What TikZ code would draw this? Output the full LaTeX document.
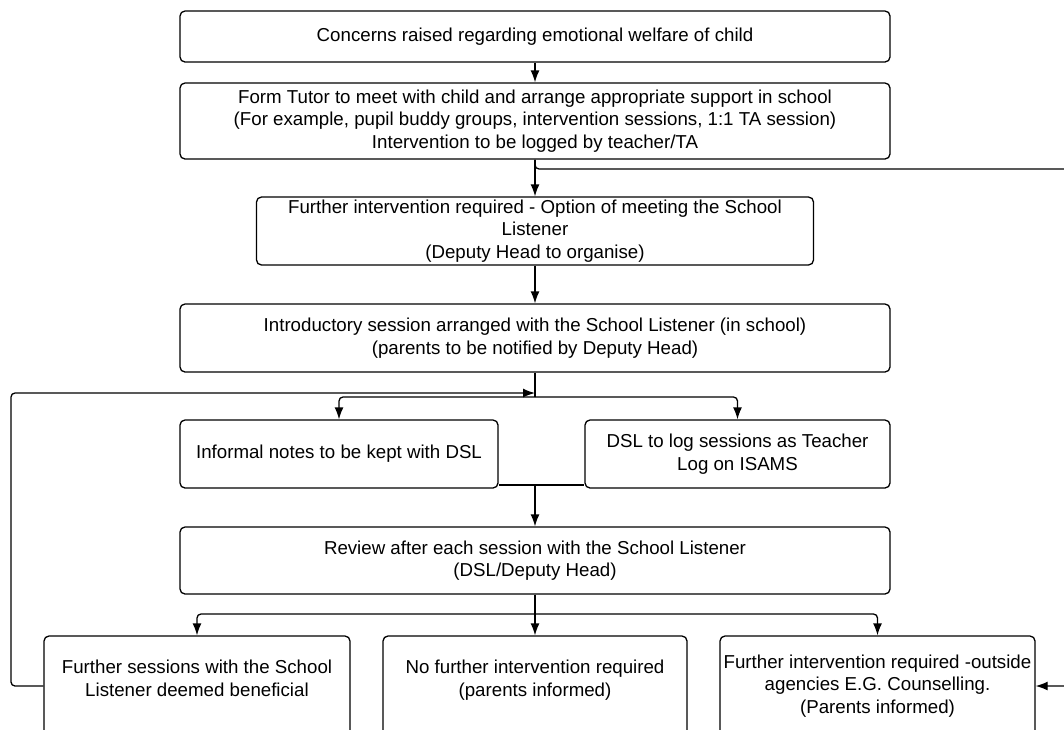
\documentclass[tikz,border=0pt]{standalone}
\usepackage{fontspec}
\setmainfont{Liberation Sans}
\usetikzlibrary{arrows.meta}

\begin{document}
\begin{tikzpicture}[x=1pt, y=-1pt, ->, >={Latex[length=12pt,width=9pt]},
    line width=1.3pt, align=center,
    every node/.style={font=\fontsize{18.7}{22.5}\selectfont}]

  \tikzstyle{box}=[draw, rectangle, rounded corners=5pt, inner sep=0pt,
    minimum width=710pt, minimum height=68pt]

  \useasboundingbox (0,0) rectangle (1064,729);
  \clip (0,0) rectangle (1064,729);

  \node[box, minimum height=51pt] (concern) at (535,36.5)
    {Concerns raised regarding emotional welfare of child};
  \node[box, minimum height=76pt, node distance=84.5pt] (tutor) [below of=concern]
    {Form Tutor to meet with child and arrange appropriate support in school\\
     (For example, pupil buddy groups, intervention sessions, 1:1 TA session)\\
     Intervention to be logged by teacher/TA};
  \node[box, minimum width=557pt, node distance=110pt] (further) [below of=tutor]
    {Further intervention required - Option of meeting the School\\
     Listener\\(Deputy Head to organise)};
  \node[box, node distance=107pt] (intro) [below of=further]
    {Introductory session arranged with the School Listener (in school)\\
     (parents to be notified by Deputy Head)};
  \node[box, minimum width=318pt, node distance=116pt, xshift=-196pt] (informal)
    [below of=intro] {Informal notes to be kept with DSL};
  \node[box, minimum width=305pt, node distance=398.5pt] (dsl) [right of=informal]
    {DSL to log sessions as Teacher\\Log on ISAMS};
  \node[box, minimum height=67pt, node distance=222.5pt] (review) [below of=intro]
    {Review after each session with the School Listener\\(DSL/Deputy Head)};
  \node[box, minimum width=304pt, minimum height=100pt, node distance=125.5pt]
    (nomore) [below of=review]
    {No further intervention required\\(parents informed)\rule[-16pt]{0pt}{0pt}};
  \node[box, minimum width=306pt, minimum height=100pt, node distance=338pt]
    (sessions) [left of=nomore]
    {Further sessions with the School\\Listener deemed beneficial\rule[-16pt]{0pt}{0pt}};
  \node[box, minimum width=315pt, minimum height=100pt, node distance=342.5pt]
    (outside) [right of=nomore]
    {Further intervention required -outside\\agencies E.G. Counselling.\\(Parents informed)};

  \coordinate (rtop) at (1085,169);
  \coordinate (lft)  at (11,393);
  \coordinate (fork) at (535,397);
  \coordinate (merge) at (535,485);
  \coordinate (fork2) at (535,614);

  \path[->]
  (concern) edge (tutor)
  (tutor) edge (further)
  (further) edge (intro)
  (merge) edge (review)
  (review) edge (nomore);

  % side route and loop back
  \draw[rounded corners=4pt] (tutor.south) |- (rtop) |- (outside.east);
  \draw[rounded corners=4pt] (sessions.west) -| (lft) -- (intro.south |- lft);

  % branches
  \draw[-, rounded corners=4pt] (intro.south) -- (fork);
  \draw[rounded corners=4pt] (fork) -| (informal.north);
  \draw[rounded corners=4pt] (fork) -| (dsl.north);
  \draw[-] (informal.east |- merge) -- (dsl.west |- merge);
  \draw[-] (review.south) -- (fork2);
  \draw[rounded corners=4pt] (fork2) -| (sessions.north);
  \draw[rounded corners=4pt] (fork2) -| (outside.north);
\end{tikzpicture}
\end{document}
